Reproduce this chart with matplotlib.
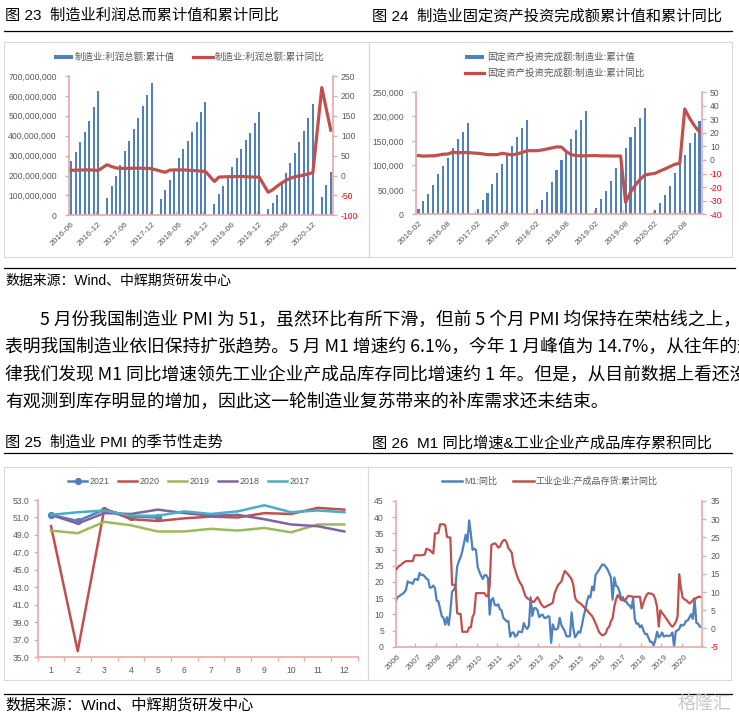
import numpy as np
import matplotlib
matplotlib.use("Agg")
import matplotlib.pyplot as plt
from matplotlib.lines import Line2D
from matplotlib.patches import Rectangle
from matplotlib.ticker import FuncFormatter

plt.rcParams['font.family'] = ['Liberation Sans', 'Noto Sans CJK SC', 'DejaVu Sans']
plt.rcParams['axes.unicode_minus'] = False

nan = np.nan

# ---- 图23: 制造业利润总额 (百万) 和累计同比, 2016-06 .. 2021-04, 1月无数据
profit_labels = ['2016-06', '2016-12', '2017-06', '2017-12', '2018-06',
                 '2018-12', '2019-06', '2019-12', '2020-06', '2020-12']
profit_value = [273, 320, 367, 419, 474, 543, 625, nan,
                88, 147, 197, 253, 321, 373, 434, 489, 549, 606, 665, nan,
                82, 127, 177, 228, 288, 331, 373, 420, 467, 519, 569, nan,
                55, 105, 147, 191, 244, 288, 331, 378, 415, 465, 519, nan,
                30, 60, 102, 157, 211, 261, 315, 370, 424, 487, 559, nan,
                92, 152, 218]
profit_yoy = [13, 13.5, 13.5, 14, 14, 13.5, 12.5, nan,
              27, 22.5, 19, 18, 18, 18, 18.5, 18.5, 18, 18, 17, nan,
              11, 8, 13.5, 14, 14, 14, 13.5, 12.5, 12, 11, 10, nan,
              -15, -4, -3.5, -3, -3, -2.5, -2.5, -3, -3.5, -4, -4, nan,
              -42, -36, -27, -19, -12, -7, -3, -1, 1, 4, 7, nan,
              221, 167, 114]

# ---- 图24: 制造业固定资产投资完成额累计值和累计同比, 2016-02 .. 2020-11
fai_labels = ['2016-02', '2016-08', '2017-02', '2017-08', '2018-02',
              '2018-08', '2019-02', '2019-08', '2020-02', '2020-08']
fai_value = [10800, 26500, 42000, 60000, 81500, 98500, 116000, 135000, 153000, 169000, 187000, nan,
             10000, 28500, 44000, 62500, 85000, 103000, 121000, 139000, 158000, 175500, 193000, nan,
             11500, 29000, 46000, 67000, 91000, 111000, 128000, 153000, 172000, 192500, 212000, nan,
             13000, 30600, 47600, 68600, 94500, 114000, 134600, 157000, 177500, 197000, 217500, nan,
             8000, 23000, 39400, 58400, 83600, 102000, 122000, 146000, 167000, 191000]
fai_yoy = [3.2, 2.8, 3.0, 3.0, 3.5, 4.2, 4.4, 5.8, 5.2, 5.5, 5.4, nan,
           4.9, 4.5, 3.9, 3.9, 3.9, 4.9, 4.3, 3.7, 4.5, 5.4, 6.8, nan,
           6.8, 7.3, 8.0, 8.8, 9.6, 9.5, 6.1, 3.9, 3.2, 3.0, 3.1, nan,
           3.2, 3.0, 3.0, 2.9, 2.9, 2.9, -31.1, -23.8, -18.4, -14.0, -11.0, nan,
           -9.8, -8.1, -6.6, -4.9, -3.2, -2.5, 37.5, 30.6, 25.0, 20.5]

# ---- 图25: 制造业PMI季节性
pmi_months = list(range(1, 13))
pmi_years = ['2021', '2020', '2019', '2018', '2017']
pmi_2021 = [51.3, 50.6, 51.9, 51.1, 51.0]
pmi_2020 = [50.0, 35.7, 52.0, 50.8, 50.6, 50.9, 51.1, 51.0, 51.5, 51.4, 52.1, 51.9]
pmi_2019 = [49.5, 49.2, 50.5, 50.1, 49.4, 49.4, 49.7, 49.5, 49.8, 49.3, 50.2, 50.2]
pmi_2018 = [51.3, 50.3, 51.5, 51.4, 51.9, 51.5, 51.2, 51.3, 50.8, 50.2, 50.0, 49.4]
pmi_2017 = [51.3, 51.6, 51.8, 51.2, 51.2, 51.7, 51.4, 51.7, 52.4, 51.6, 51.8, 51.6]
pmi_colors = ['#4F81BD', '#C0504D', '#9BBB59', '#8064A2', '#4BACC6']

# ---- 图26: M1同比 与 产成品存货累计同比, 2006-06 .. 2021-05 (月度)
year_labels = [str(y) for y in range(2006, 2021)]
m1_yoy = [13.9, 15.3, 15.6, 16.0, 16.3, 16.8, 17.5,
          20.2, 19.8, 19.8, 19.4, 20.8, 20.9, 20.6, 22.8, 22.1, 22.2, 21.7, 21.0,
          20.7, 18.2, 18.3, 18.9, 18.1, 14.2, 14.0, 11.7, 9.4, 8.9, 6.8, 9.1,
          6.7, 10.9, 17.0, 17.5, 18.7, 24.8, 26.4, 27.7, 29.5, 32.0, 34.6, 32.4,
          39.0, 34.9, 29.9, 30.3, 29.9, 24.6, 23.1, 21.9, 20.9, 22.1, 22.1, 21.2,
          9.9, 14.5, 15.0, 12.9, 12.7, 13.1, 11.6, 11.2, 8.9, 8.4, 7.8, 7.9,
          3.1, 4.3, 4.4, 3.1, 3.5, 4.7, 4.6, 4.5, 7.3, 6.1, 5.5, 6.5,
          15.3, 9.5, 11.9, 11.9, 11.3, 9.1, 9.7, 9.9, 8.9, 8.9, 9.4, 9.3,
          1.2, 6.9, 5.4, 5.3, 5.7, 8.9, 6.7, 5.7, 4.8, 3.2, 3.2, 3.2,
          10.6, 5.6, 2.9, 3.7, 4.7, 4.3, 6.6, 9.3, 11.4, 14.0, 15.7, 15.2,
          18.6, 17.4, 22.1, 22.9, 23.7, 24.6, 25.4, 25.3, 24.7, 23.9, 22.7, 21.4,
          14.5, 21.4, 18.8, 18.5, 17.0, 15.0, 15.3, 14.0, 14.0, 13.0, 12.7, 11.8,
          15.0, 8.5, 7.1, 7.2, 6.0, 6.6, 5.1, 3.9, 4.0, 2.7, 1.5, 1.5,
          0.4, 2.0, 4.6, 2.9, 3.4, 4.4, 3.1, 3.4, 3.4, 3.3, 3.5, 4.4,
          0.0, 4.8, 5.0, 5.5, 6.8, 6.5, 6.9, 8.0, 8.1, 9.1, 10.0, 8.6,
          14.7, 7.4, 7.1, 6.2, 6.1]
inv_yoy = [16.1, 16.6, 17.2, 17.4, 17.9, 18.2, 18.5,
           18.5, 18.5, 18.5, 18.5, 20.1, 20.1, 20.1, 20.1, 20.1, 20.2, 20.3, 21.9,
           21.7, 21.5, 21.0, 20.6, 26.1, 26.1, 26.3, 28.6, 28.6, 28.6, 28.4, 25.2,
           25.0, 25.0, 12.0, 12.0, 12.0, 4.2, 4.0, 4.0, -0.9, -0.9, -0.9, -0.9,
           0.3, 0.3, 3.2, 4.2, 9.7, 9.7, 9.7, 9.7, 9.7, 9.7, 8.9, 8.9,
           11.5, 22.9, 23.2, 23.4, 23.0, 22.2, 22.5, 23.5, 24.2, 24.3, 23.6, 22.0,
           21.5, 20.7, 17.5, 16.0, 14.5, 13.3, 12.4, 11.7, 10.2, 8.9, 8.3, 8.0,
           7.8, 7.4, 7.3, 8.0, 8.6, 7.8, 6.8, 6.2, 5.8, 6.0, 6.3, 6.5,
           6.8, 7.1, 9.7, 10.8, 11.9, 12.4, 12.9, 14.5, 15.8, 15.3, 14.8, 14.2,
           13.5, 11.9, 8.5, 7.6, 7.2, 6.9, 6.5, 6.0, 5.5, 5.0, 4.4, 3.9,
           3.4, 2.5, 1.4, 0.3, -0.9, -1.5, -1.9, -1.7, -1.3, 0.0, 0.5, 2.0,
           2.8, 6.0, 8.0, 9.2, 8.5, 7.8, 7.8, 7.8, 8.2, 8.9, 8.9, 8.8,
           8.7, 8.7, 8.7, 8.7, 8.7, 5.5, 7.0, 8.3, 9.3, 9.7, 9.6, 9.5,
           9.2, 8.0, 6.0, 0.5, 5.0, 4.2, 3.7, 3.0, 2.3, 1.6, 0.9, 0.5,
           1.0, 1.8, 3.2, 14.9, 11.0, 8.5, 8.0, 7.8, 7.3, 6.9, 7.2, 7.8,
           8.3, 8.3, 8.7, 8.7, 8.5]

W, H = 739, 719
BLUE = '#4F81BD'
RED = '#C0504D'
PINK = '#E8A8A8'
GREY = '#595959'
TICK = 6.2
CJK = ['Noto Sans CJK SC', 'DejaVu Sans']

fig = plt.figure(figsize=(W / 100, H / 100), dpi=100)


def fx(x):
    return x / W


def fy(y):
    return 1 - y / H


def box(l, t, r, b):
    return [fx(l), fy(b), (r - l) / W, (b - t) / H]


def frame(l, t, r, b):
    fig.add_artist(Rectangle((fx(l), fy(b)), (r - l) / W, (b - t) / H,
                             transform=fig.transFigure, fill=False, ec='#D9D9D9', lw=0.8))


def rule(x0, x1, y):
    fig.add_artist(Line2D([fx(x0), fx(x1)], [fy(y), fy(y)], transform=fig.transFigure,
                          color='black', lw=0.9))


def leg_line(x0, x1, y, color, lw, marker=None):
    fig.add_artist(Line2D([fx(x0), fx((x0 + x1) / 2), fx(x1)], [fy(y)] * 3,
                          transform=fig.transFigure, color=color, lw=lw,
                          marker=marker, markevery=[1], markersize=4.2))


def leg_rect(x0, x1, y, h=4):
    fig.add_artist(Rectangle((fx(x0), fy(y + h / 2)), (x1 - x0) / W, h / H,
                             transform=fig.transFigure, color=BLUE, lw=0))


def leg_text(x, y, s, size=6.8):
    fig.text(fx(x), fy(y), s, fontsize=size, color=GREY, va='center', ha='left')


def red_negatives(ax):
    for lab in ax.get_yticklabels():
        if lab.get_text().startswith('-'):
            lab.set_color('#FF0000')


def bar_line_chart(rect, values, yoy, labels, ymax, ystep, rlim, rstep, fmt,
                   lpad, bar_w):
    n = len(values)
    x = np.arange(n)
    ax = fig.add_axes(rect)
    ax.bar(x, np.array(values), width=bar_w, color=BLUE, zorder=2)
    ax.set_xlim(-0.5, n - 0.5)
    ax.set_ylim(0, ymax)
    ax.set_yticks(np.arange(0, ymax + 1, ystep))
    ax.yaxis.set_major_formatter(FuncFormatter(fmt))
    ax.set_xticks(x[::6])
    ax.set_xticklabels(labels, rotation=45, ha='right', rotation_mode='anchor')
    ax.set_xticks(np.arange(5.5, n - 0.5, 6), minor=True)
    ax.tick_params(axis='x', which='major', length=0, pad=4, labelsize=6, labelcolor=GREY)
    ax.tick_params(axis='x', which='minor', direction='in', length=3, color=PINK, width=1)
    ax.tick_params(axis='y', length=3, color=PINK, width=1, labelsize=TICK,
                   labelcolor=GREY, pad=lpad)
    for s in ['top', 'right']:
        ax.spines[s].set_visible(False)
    for s in ['left', 'bottom']:
        ax.spines[s].set_color(PINK)
        ax.spines[s].set_linewidth(1.2)

    ax2 = ax.twinx()
    yy = np.array(yoy)
    ok = ~np.isnan(yy)
    ax2.plot(x[ok], yy[ok], color=RED, lw=2.3, solid_joinstyle='round')
    ax2.set_ylim(*rlim)
    ax2.set_yticks(np.arange(rlim[0], rlim[1] + 1, rstep))
    ax2.tick_params(axis='y', length=3, color=PINK, width=1, labelsize=TICK,
                    labelcolor=GREY, pad=2.8)
    for s in ['top', 'left', 'bottom']:
        ax2.spines[s].set_visible(False)
    ax2.spines['right'].set_color(PINK)
    ax2.spines['right'].set_linewidth(1.2)
    red_negatives(ax2)
    return ax, ax2


# ---------------- headers, rules, frames
fig.text(fx(5), fy(16), '图 23  制造业利润总而累计值和累计同比', fontsize=11, va='center')
fig.text(fx(372), fy(16), '图 24  制造业固定资产投资完成额累计值和累计同比', fontsize=11, va='center')
rule(4, 732, 30.5)
frame(4, 42, 369, 257)
frame(369, 42, 732, 257)

# ---------------- chart 23
bar_line_chart(box(69, 76, 333, 215.3), np.array(profit_value) * 1e6, profit_yoy,
               profit_labels, 700e6, 100e6, (-100, 250), 50,
               lambda v, p: f'{v:,.0f}', 5.7, 0.45)
leg_rect(54, 73, 57)
leg_text(75, 57, '制造业:利润总额:累计值')
leg_line(193, 213, 57, RED, 2.3)
leg_text(215, 57, '制造业:利润总额:累计同比')

# ---------------- chart 24
bar_line_chart(box(416, 92, 702, 214.3), fai_value, fai_yoy, fai_labels,
               250000, 50000, (-40, 50), 10,
               lambda v, p: f'{v:,.0f}', 5.7, 0.42)
leg_rect(465, 484, 57)
leg_text(487, 57, '固定资产投资完成额:制造业:累计值')
leg_line(465, 484, 73, RED, 2.3)
leg_text(487, 73, '固定资产投资完成额:制造业:累计同比')

# ---------------- source + body text
rule(4, 735, 268)
fig.text(fx(5), fy(281), '数据来源：Wind、中辉期货研发中心', fontsize=10, va='center')
body = ['5 月份我国制造业 PMI 为 51，虽然环比有所下滑，但前 5 个月 PMI 均保持在荣枯线之上，',
        '表明我国制造业依旧保持扩张趋势。5 月 M1 增速约 6.1%，今年 1 月峰值为 14.7%，从往年的规',
        '律我们发现 M1 同比增速领先工业企业产成品库存同比增速约 1 年。但是，从目前数据上看还没',
        '有观测到库存明显的增加，因此这一轮制造业复苏带来的补库需求还未结束。']
body_x = [40, 5, 5, 5]
body_y = [320, 347, 375, 402]
for s, bx, by in zip(body, body_x, body_y):
    fig.text(fx(bx), fy(by), s, fontsize=12.8, va='center', family=CJK)

fig.text(fx(5), fy(443), '图 25  制造业 PMI 的季节性走势', fontsize=11, va='center')
fig.text(fx(372), fy(443), '图 26  M1 同比增速&工业企业产成品库存累积同比', fontsize=11, va='center')
rule(4, 732, 453)
frame(4, 467, 368, 680)
frame(368, 467, 731, 680)

# ---------------- chart 25
ax = fig.add_axes(box(37.7, 500, 357.7, 657.3))
series = [pmi_2021, pmi_2020, pmi_2019, pmi_2018, pmi_2017]
for vals, col, yr in zip(series, pmi_colors, pmi_years):
    if yr == '2021':
        ax.plot(pmi_months[:len(vals)], vals, color=col, lw=1.8, marker='o', markersize=4.2)
    else:
        ax.plot(pmi_months[:len(vals)], vals, color=col, lw=1.8)
ax.set_xlim(0.5, 12.5)
ax.set_ylim(35, 53)
ax.set_yticks(np.arange(35, 53.1, 2))
ax.yaxis.set_major_formatter(FuncFormatter(lambda v, p: f'{v:.1f}'))
ax.set_xticks(pmi_months)
ax.set_xticks(np.arange(0.5, 13, 1), minor=True)
ax.tick_params(axis='x', which='major', length=0, pad=6, labelsize=TICK, labelcolor=GREY)
ax.tick_params(axis='x', which='minor', length=3, color=PINK, width=1)
ax.tick_params(axis='y', length=3, color=PINK, width=1, labelsize=TICK, labelcolor=GREY, pad=3)
for s in ['top', 'right']:
    ax.spines[s].set_visible(False)
for s in ['left', 'bottom']:
    ax.spines[s].set_color(PINK)
    ax.spines[s].set_linewidth(1.2)
for i, (col, yr) in enumerate(zip(pmi_colors, pmi_years)):
    x0 = 68 + 50 * i
    leg_line(x0, x0 + 19, 481, col, 1.8, 'o' if yr == '2021' else None)
    leg_text(x0 + 22, 481, yr, 6.4)

# ---------------- chart 26
t = np.arange(len(m1_yoy))
ax = fig.add_axes(box(395.7, 501, 702.3, 646.7))
ax.plot(t, m1_yoy, color=BLUE, lw=1.6)
ax.set_xlim(0, len(m1_yoy) - 1)
ax.set_ylim(0, 45)
ax.set_yticks(np.arange(0, 46, 5))
ax.set_xticks(np.arange(0, 169, 12) + 1)
ax.set_xticklabels(year_labels, rotation=45, ha='right', rotation_mode='anchor')
ax.set_xticks(np.arange(11.5, len(m1_yoy), 12), minor=True)
ax.tick_params(axis='x', which='major', length=0, pad=5, labelsize=6, labelcolor=GREY)
ax.tick_params(axis='x', which='minor', direction='in', length=3, color=PINK, width=1)
ax.tick_params(axis='y', length=3, color=PINK, width=1, labelsize=TICK, labelcolor=GREY, pad=5.5)
for s in ['top', 'right']:
    ax.spines[s].set_visible(False)
for s in ['left', 'bottom']:
    ax.spines[s].set_color(PINK)
    ax.spines[s].set_linewidth(1.2)
ax2 = ax.twinx()
ax2.plot(t, inv_yoy, color=RED, lw=1.6)
ax2.set_ylim(-5, 35)
ax2.set_yticks(np.arange(-5, 36, 5))
ax2.tick_params(axis='y', length=3, color=PINK, width=1, labelsize=TICK, labelcolor=GREY, pad=2.8)
for s in ['top', 'left', 'bottom']:
    ax2.spines[s].set_visible(False)
ax2.spines['right'].set_color(PINK)
ax2.spines['right'].set_linewidth(1.2)
red_negatives(ax2)
leg_line(442, 462, 481, BLUE, 1.8)
leg_text(464, 481, 'M1:同比', 6.5)
leg_line(513, 534, 481, RED, 1.8)
leg_text(536, 481, '工业企业:产成品存货:累计同比', 6.5)

# ---------------- bottom
rule(4, 732, 694)
fig.text(fx(5), fy(705), '数据来源：Wind、中辉期货研发中心', fontsize=11, va='center')
fig.text(fx(732), fy(704), '格隆汇', fontsize=13, color='#C8C8C8', ha='right', va='center')

fig.savefig('out.png', dpi=100)
